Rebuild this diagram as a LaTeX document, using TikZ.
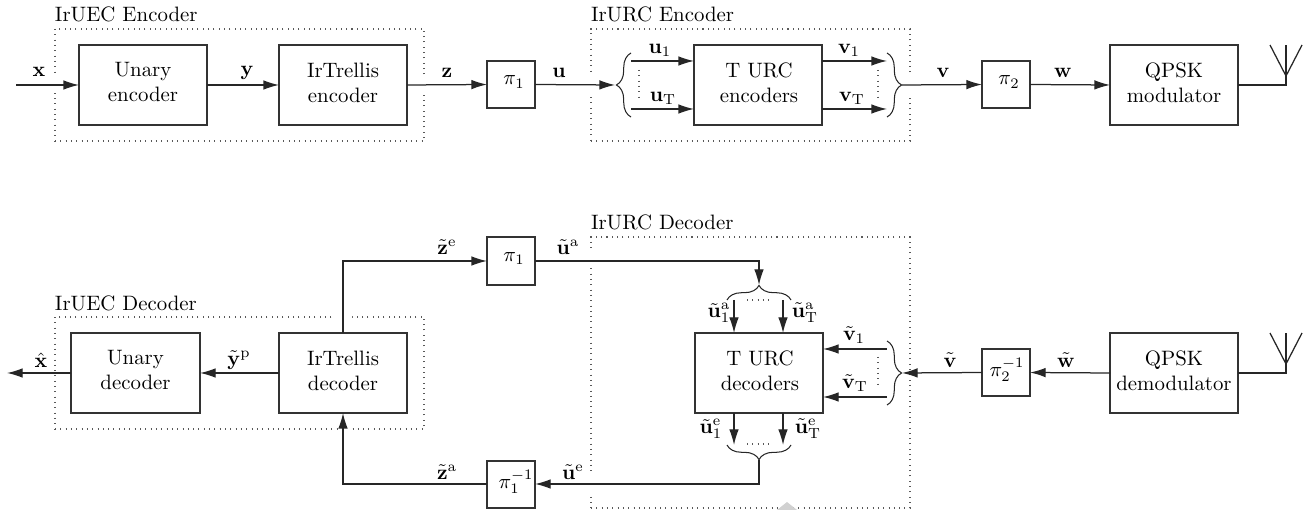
\documentclass[tikz,border=0pt]{standalone}
\usetikzlibrary{arrows.meta,fit,decorations.pathreplacing,calc}
\tikzset{
  blk/.style={draw=black!80,line width=0.6pt,inner sep=0pt,outer sep=0pt,align=center},
  grp/.style={draw=black!65,line width=0.5pt,dash pattern=on 0.5pt off 2.05pt,inner sep=0pt,outer sep=0pt},
  wire/.style={draw=black!85,line width=0.6pt},
  arr/.style={wire,-{Latex[length=7.5pt,width=4.6pt]}},
  brc/.style={draw=black!85,line width=0.5pt,decorate,decoration={brace,amplitude=7pt}},
  dots/.style={draw=black!65,line width=0.5pt,dash pattern=on 0.5pt off 2.05pt},
  lab/.style={inner sep=0pt,outer sep=0pt},
  ttl/.style={inner sep=0pt,outer sep=0pt,anchor=west},
}
\newcommand{\blk}[7]{\coordinate (#1-a) at (#2,#3); \coordinate (#1-b) at (#4,#5);
  \node[blk,fit=(#1-a)(#1-b)] (#1) {}; \node[lab,align=center] (#1-t) at ($(#1.center)+(#6,-2.5)$) {#7};}
\newcommand{\grp}[5]{\coordinate (#1-a) at (#2,#3); \coordinate (#1-b) at (#4,#5);
  \node[grp,fit=(#1-a)(#1-b)] (#1) {};}
\begin{document}
\begin{tikzpicture}[x=0.48pt,y=-0.48pt]
\useasboundingbox (0,0) rectangle (1313,510);
% groups
\grp{gue}{55}{29}{424}{141}
\grp{gur}{591}{29}{910}{141}
\grp{gud}{55}{317}{424}{429}
\grp{grd}{591}{237}{910}{508}
\fill[white] (50,76) rectangle (60,93) (419,76) rectangle (429,93)
  (586,75) rectangle (596,95) (905,75) rectangle (915,95)
  (335,312) rectangle (352,322) (339,424) rectangle (352,434)
  (586,252) rectangle (596,267) (586,475) rectangle (596,492);
\fill[black!18] (777,510) -- (787,502) -- (797,510) -- cycle;
\node[ttl] (t1) at (55,14) {IrUEC Encoder};
\node[ttl] (t2) at (591,14) {IrURC Encoder};
\node[ttl] (t3) at (55,303) {IrUEC Decoder};
\node[ttl] (t4) at (591,222) {IrURC Decoder};
% top row
\blk{ue}{79}{45}{207}{125}{0}{Unary\\encoder}
\blk{te}{279}{45}{407}{125}{0}{IrTrellis\\encoder}
\blk{p1}{487}{61}{535}{108}{3}{$\pi_1$}
\blk{urc}{694}{45}{822}{125}{1}{T URC\\encoders}
\blk{p2}{982}{61}{1030}{108}{3}{$\pi_2$}
\blk{mod}{1110}{45}{1238}{125}{0}{QPSK\\modulator}
\coordinate (xin) at (16,85);
\draw[arr] (xin) -- (ue.west);
\draw[arr] (ue.east) -- (te.west);
\draw[arr] (te.east) -- (p1.west);
\coordinate (btl) at (615,85);
\draw[arr] (p1.east) -- (btl);
\coordinate (bl1) at (631,117); \coordinate (bl2) at (631,53);
\draw[brc] (bl1) -- (bl2);
\coordinate (ua) at (631,61); \coordinate (ub) at (631,109);
\draw[arr] (ua) -- (ua -| urc.west);
\draw[arr] (ub) -- (ub -| urc.west);
\coordinate (d1a) at (639,70); \coordinate (d1b) at (639,98);
\draw[dots] (d1a) -- (d1b);
\coordinate (va) at (887,61); \coordinate (vb) at (887,109);
\draw[arr] (va -| urc.east) -- (va);
\draw[arr] (vb -| urc.east) -- (vb);
\coordinate (d2a) at (878,70); \coordinate (d2b) at (878,98);
\draw[dots] (d2a) -- (d2b);
\coordinate (br1) at (887,53); \coordinate (br2) at (887,117);
\draw[brc] (br1) -- (br2);
\coordinate (btr) at (902,85);
\draw[arr] (btr) -- (p2.west);
\draw[arr] (p2.east) -- (mod.west);
\coordinate (an1) at (1286,85); \coordinate (an2) at (1286,45); \coordinate (an3) at (1286,76);
\coordinate (an4) at (1270,45); \coordinate (an5) at (1302,45);
\draw[wire] (mod.east) -- (an1) -- (an2);
\draw[wire] (an4) -- (an3) -- (an5);
% bottom row
\blk{ud}{71}{333}{200}{413}{0}{Unary\\decoder}
\blk{td}{279}{333}{407}{413}{0}{IrTrellis\\decoder}
\blk{q1}{487}{237}{535}{285}{3}{$\pi_1$}
\blk{q1i}{487}{461}{535}{508}{5}{$\pi_1^{-1}$}
\blk{urd}{695}{333}{823}{413}{1}{T URC\\decoders}
\blk{q2}{982}{349}{1030}{396}{1}{$\pi_2^{-1}$}
\blk{dem}{1110}{333}{1238}{413}{0}{QPSK\\demodulator}
\coordinate (xout) at (7,373);
\draw[arr] (ud.west) -- (xout);
\draw[arr] (td.west) -- (ud.east);
\coordinate (c1) at (343,261);
\draw[arr] (c1 |- td.north) -- (c1) -- (c1 -| q1.west);
\coordinate (c2) at (759,261); \coordinate (bt) at (759,285);
\draw[arr] (c2 -| q1.east) -- (c2) -- (bt);
\coordinate (bt1) at (727,300); \coordinate (bt2) at (791,300);
\draw[brc] (bt1) -- (bt2);
\coordinate (a1) at (734,300); \coordinate (a2) at (783,300);
\draw[arr] (a1) -- (a1 |- urd.north);
\draw[arr] (a2) -- (a2 |- urd.north);
\coordinate (d3a) at (747,300); \coordinate (d3b) at (773,300);
\draw[dots] (d3a) -- (d3b);
\coordinate (e1) at (734,445); \coordinate (e2) at (783,445);
\draw[arr] (e1 |- urd.south) -- (e1);
\draw[arr] (e2 |- urd.south) -- (e2);
\coordinate (d4a) at (747,444); \coordinate (d4b) at (773,444);
\draw[dots] (d4a) -- (d4b);
\coordinate (bb1) at (791,445); \coordinate (bb2) at (727,445);
\draw[brc] (bb1) -- (bb2);
\coordinate (bb) at (759,460); \coordinate (c3) at (759,484);
\draw[arr] (bb) -- (c3) -- (c3 -| q1i.east);
\coordinate (c4) at (343,484);
\draw[arr] (c4 -| q1i.west) -- (c4) -- (c4 |- td.south);
\draw[arr] (dem.west) -- (q2.east);
\coordinate (brr) at (902,373);
\draw[arr] (q2.west) -- (brr);
\coordinate (br3) at (887,341); \coordinate (br4) at (887,405);
\draw[brc] (br3) -- (br4);
\coordinate (wa) at (887,349); \coordinate (wb) at (887,397);
\draw[arr] (wa) -- (wa -| urd.east);
\draw[arr] (wb) -- (wb -| urd.east);
\coordinate (d5a) at (878,357); \coordinate (d5b) at (878,385);
\draw[dots] (d5a) -- (d5b);
\coordinate (bn1) at (1286,373); \coordinate (bn2) at (1286,333); \coordinate (bn3) at (1286,364);
\coordinate (bn4) at (1270,333); \coordinate (bn5) at (1302,333);
\draw[wire] (dem.east) -- (bn1) -- (bn2);
\draw[wire] (bn4) -- (bn3) -- (bn5);
% labels
\node[lab] (l1) at (39,72) {$\mathbf{x}$};
\node[lab] (l2) at (247,73) {$\mathbf{y}$};
\node[lab] (l3) at (447,73) {$\mathbf{z}$};
\node[lab] (l4) at (559,73) {$\mathbf{u}$};
\node[lab] (l5) at (660,50) {$\mathbf{u}_1$};
\node[lab] (l6) at (663,98) {$\mathbf{u}_{\mathrm{T}}$};
\node[lab] (l7) at (849,50) {$\mathbf{v}_1$};
\node[lab] (l8) at (852,98) {$\mathbf{v}_{\mathrm{T}}$};
\node[lab] (l9) at (943,73) {$\mathbf{v}$};
\node[lab] (l10) at (1063,73) {$\mathbf{w}$};
\node[lab] (l11) at (41,360) {$\hat{\mathbf{x}}$};
\node[lab] (l12) at (239,360) {$\tilde{\mathbf{y}}^{\mathrm{p}}$};
\node[lab] (l13) at (447,247) {$\tilde{\mathbf{z}}^{\mathrm{e}}$};
\node[lab] (l14) at (568,247) {$\tilde{\mathbf{u}}^{\mathrm{a}}$};
\node[lab] (l15) at (447,472) {$\tilde{\mathbf{z}}^{\mathrm{a}}$};
\node[lab] (l16) at (573,472) {$\tilde{\mathbf{u}}^{\mathrm{e}}$};
\node[lab] (l17) at (719,313) {$\tilde{\mathbf{u}}_1^{\mathrm{a}}$};
\node[lab] (l18) at (805,313) {$\tilde{\mathbf{u}}_{\mathrm{T}}^{\mathrm{a}}$};
\node[lab] (l19) at (854,335) {$\tilde{\mathbf{v}}_1$};
\node[lab] (l20) at (855,383) {$\tilde{\mathbf{v}}_{\mathrm{T}}$};
\node[lab] (l21) at (950,360) {$\tilde{\mathbf{v}}$};
\node[lab] (l22) at (1066,360) {$\tilde{\mathbf{w}}$};
\node[lab] (l23) at (711,429) {$\tilde{\mathbf{u}}_1^{\mathrm{e}}$};
\node[lab] (l24) at (808,429) {$\tilde{\mathbf{u}}_{\mathrm{T}}^{\mathrm{e}}$};
\end{tikzpicture}
\end{document}
